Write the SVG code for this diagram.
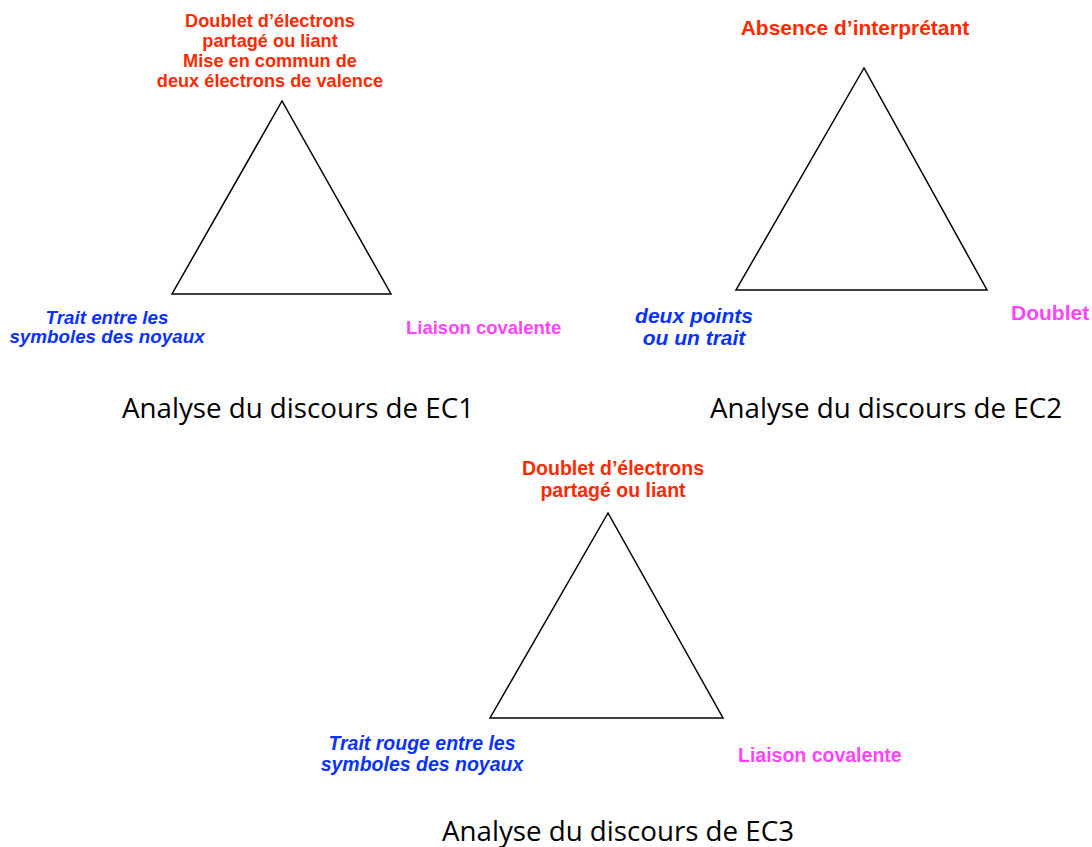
<svg xmlns="http://www.w3.org/2000/svg" width="1092" height="847" viewBox="0 0 1092 847">
<style>
.tri{fill:none;stroke:#000;stroke-width:1.5;stroke-linejoin:miter}
.r{fill:#FF2A00;font-family:"Liberation Sans",Arial,sans-serif;font-weight:bold;text-anchor:middle}
.b{fill:#0A32FF;font-family:"Liberation Sans",Arial,sans-serif;font-weight:bold;font-style:italic;text-anchor:middle}
.m{fill:#FF44FF;font-family:"Liberation Sans",Arial,sans-serif;font-weight:bold}
.cap{fill:#000;font-family:"Open Sans","Liberation Sans",sans-serif;font-size:27px}
</style>
<rect width="1092" height="847" fill="#fff"/>
<g id="connectors">
<polygon class="tri" points="282,101 172,294 391,294"/>
<polygon class="tri" points="864,68 736,290 987,290"/>
<polygon class="tri" points="608,513 490,718 723,718"/>
</g>
<g id="ec1">
<g id="ec1-top">
<text class="r" font-size="18.2" x="270" y="27">Doublet d’électrons</text>
<text class="r" font-size="18.2" x="270" y="47">partagé ou liant</text>
<text class="r" font-size="18.2" x="270" y="67">Mise en commun de</text>
<text class="r" font-size="18.2" x="270" y="87">deux électrons de valence</text>
</g>
<g id="ec1-left">
<text class="b" font-size="18.8" x="107" y="324">Trait entre les</text>
<text class="b" font-size="18.8" x="107" y="343">symboles des noyaux</text>
</g>
<g id="ec1-right"><text class="m" font-size="18.5" x="406" y="334">Liaison covalente</text></g>
<g id="ec1-caption"><text class="cap" x="122" y="418" textLength="352" lengthAdjust="spacingAndGlyphs">Analyse du discours de EC1</text></g>
</g>
<g id="ec2">
<g id="ec2-top"><text class="r" font-size="21" x="855" y="35">Absence d’interprétant</text></g>
<g id="ec2-left">
<text class="b" font-size="21" x="694" y="323">deux points</text>
<text class="b" font-size="21" x="694" y="345">ou un trait</text>
</g>
<g id="ec2-right"><text class="m" font-size="21" x="1011" y="320">Doublet</text></g>
<g id="ec2-caption"><text class="cap" x="710" y="418" textLength="352" lengthAdjust="spacingAndGlyphs">Analyse du discours de EC2</text></g>
</g>
<g id="ec3">
<g id="ec3-top">
<text class="r" font-size="19.5" x="613" y="475">Doublet d’électrons</text>
<text class="r" font-size="19.5" x="613" y="497">partagé ou liant</text>
</g>
<g id="ec3-left">
<text class="b" font-size="19.5" x="422" y="750">Trait rouge entre les</text>
<text class="b" font-size="19.5" x="422" y="771">symboles des noyaux</text>
</g>
<g id="ec3-right"><text class="m" font-size="19.5" x="738" y="762">Liaison covalente</text></g>
<g id="ec3-caption"><text class="cap" x="442" y="841" textLength="352" lengthAdjust="spacingAndGlyphs">Analyse du discours de EC3</text></g>
</g>
</svg>
